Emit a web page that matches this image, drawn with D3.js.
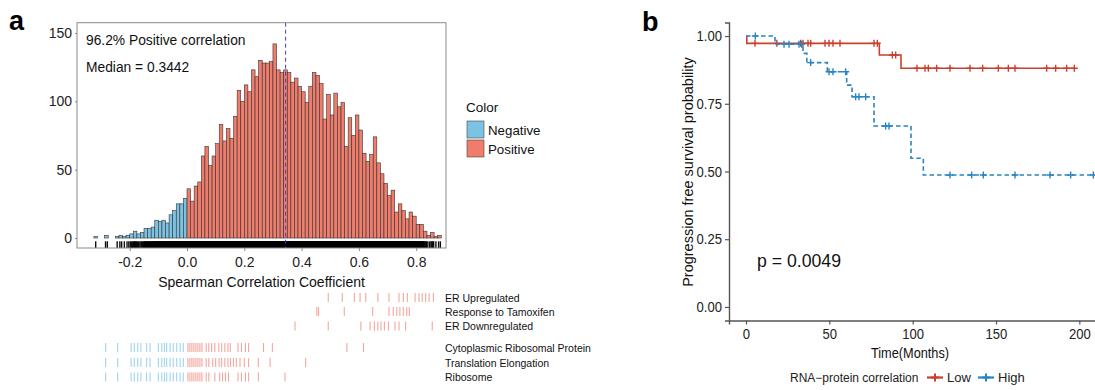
<!DOCTYPE html>
<html>
<head>
<meta charset="utf-8">
<script src="https://cdn.jsdelivr.net/npm/d3@7"></script>
<style>
  body { margin: 0; background: #fff; }
  svg { display: block; font-family: "Liberation Sans", Arial, sans-serif; }
</style>
</head>
<body>
<svg id="fig" width="1095" height="390"></svg>
<script>
// ---- panel a : histogram of spearman correlations (binwidth 0.0125) ----
const binStart = -0.3375, binWidth = 0.0125;
const negCounts = [0, 1, 0, 0, 2, 0, 0, 1, 2, 1, 2, 3, 5, 3, 4, 7, 7, 8, 13, 12, 13, 11, 17, 20, 25, 25, 29];
const posCounts = [36, 27, 38, 41, 60, 67, 53, 60, 69, 83, 71, 80, 73, 89, 108, 100, 112, 107, 123, 118,
  130, 128, 128, 129, 142, 123, 121, 123, 121, 114, 117, 111, 107, 99, 111, 121, 119,
  113, 87, 105, 90, 106, 96, 99, 67, 88, 75, 90, 79, 62, 56, 61, 74, 55, 47, 40, 31,
  35, 19, 25, 20, 14, 19, 16, 10, 10, 5, 2, 4, 1, 2, 0];
const medianCor = 0.3442;
const xTicksA = [-0.2, 0, 0.2, 0.4, 0.6, 0.8];
const yTicksA = [0, 50, 100, 150];
const fillLabels = ["Negative", "Positive"];
const fillColors = ["#7cc3e3", "#f07c6c"];

// gene set members (correlation values)
const geneSets = ["ER Upregulated", "Response to Tamoxifen", "ER Downregulated",
  "Cytoplasmic Ribosomal Protein", "Translation Elongation", "Ribosome"];
const erUp = [0.493, 0.542, 0.584, 0.604, 0.624, 0.666, 0.705, 0.740, 0.755, 0.769, 0.796, 0.810, 0.821, 0.833, 0.845, 0.860];
const tamoxifen = [0.453, 0.459, 0.549, 0.648, 0.705, 0.720, 0.732, 0.743, 0.755, 0.767, 0.776];
const erDown = [0.377, 0.493, 0.607, 0.639, 0.654, 0.666, 0.677, 0.689, 0.703, 0.726, 0.740, 0.763, 0.856];
const riboNeg = [-0.284, -0.242, -0.195, -0.184, -0.172, -0.161, -0.141, -0.129, -0.100, -0.088, -0.079, -0.071, -0.059, -0.048, -0.036, -0.024, -0.013];
const cytoRibo = riboNeg.concat([0.003, 0.010, 0.017, 0.024, 0.031, 0.038, 0.045, 0.052, 0.067, 0.076, 0.086, 0.097, 0.111, 0.121, 0.132, 0.143, 0.151, 0.178, 0.190, 0.204, 0.215, 0.267, 0.298, 0.558, 0.616]);
const translation = riboNeg.concat([0.003, 0.010, 0.017, 0.024, 0.031, 0.038, 0.045, 0.052, 0.067, 0.076, 0.090, 0.100, 0.112, 0.121, 0.132, 0.143, 0.152, 0.162, 0.172, 0.185, 0.200, 0.215, 0.249, 0.290, 0.414]);
const ribosome = riboNeg.concat([0.003, 0.010, 0.017, 0.024, 0.031, 0.038, 0.045, 0.052, 0.067, 0.076, 0.097, 0.114, 0.124, 0.134, 0.145, 0.178, 0.190, 0.204, 0.215, 0.249, 0.342]);
const geneValues = [erUp, tamoxifen, erDown, cytoRibo, translation, ribosome];

// ---- panel b : Kaplan-Meier ----
const lowTimes = [0, 0.5, 80, 93];
const lowSurv = [1, 0.973, 0.930, 0.881];
const lowEnd = 197;
const lowCensor = [5.4, 18.5, 32.8, 34.2, 37.2, 38.8, 47.4, 49.8, 52.2, 56.4, 76.8, 78.8, 87.8, 89.8,
  102.6, 107.4, 109.4, 114.4, 122.4, 134.4, 142, 151.4, 157.4, 161.4, 180.4, 185.8, 192.4, 197];
const highTimes = [0, 17.4, 34.2, 36.5, 48.8, 60.4, 63.6, 76.8, 99, 106.4];
const highSurv = [1, 0.970, 0.936, 0.902, 0.868, 0.819, 0.776, 0.668, 0.549, 0.487];
const highEnd = 216;
const highCensor = [5.6, 22.8, 25.8, 31.8, 33.4, 38.8, 49.8, 52.2, 59.8, 65.8, 67.8, 71.8, 83.8, 85.8,
  122.4, 135.4, 142.4, 161.4, 182.4, 194.8, 208.4];
const xTicksB = [0, 50, 100, 150, 200];
const yTicksB = [0, 0.25, 0.5, 0.75, 1];
const groupNames = ["Low", "High"];
const groupColors = ["#c9402f", "#2a84c4"];

const svg = d3.select("#fig");
svg.append("rect").attr("width", 1095).attr("height", 390).attr("fill", "#fff");

// panel letters
svg.append("text").attr("x", 9).attr("y", 30).attr("font-size", 27).attr("font-weight", "bold").text("a");
svg.append("text").attr("x", 642).attr("y", 31).attr("font-size", 27).attr("font-weight", "bold").text("b");

// plus-shaped censor mark
const plus = s => "M" + (-s) + ",0H" + s + "M0," + (-s) + "V" + s;
// squeeze text horizontally (panel b type is narrower in the figure)
function squeeze(sel, k) {
  sel.each(function () {
    const w = this.getComputedTextLength();
    d3.select(this).attr("textLength", w * k).attr("lengthAdjust", "spacingAndGlyphs");
  });
}

// ===== panel a =====
const xA = d3.scaleLinear().domain([-0.384, 0.904]).range([77, 446]);
const yA = d3.scaleLinear().domain([-7.3, 157.5]).range([248, 22.7]);

const bins = negCounts.map((n, i) => ({ x0: binStart + i * binWidth, n: n, g: 0 }))
  .concat(posCounts.map((n, i) => ({ x0: i * binWidth, n: n, g: 1 })));

const ga = svg.append("g");
ga.selectAll("rect.bar").data(bins).enter().append("rect")
  .attr("class", "bar")
  .attr("x", d => xA(d.x0))
  .attr("width", d => xA(d.x0 + binWidth) - xA(d.x0))
  .attr("y", d => yA(d.n))
  .attr("height", d => yA(0) - yA(d.n))
  .attr("fill", d => fillColors[d.g])
  .attr("stroke", "#333")
  .attr("stroke-width", 0.6);

// rug: one tick per observation spread inside its bin
const rugVals = [];
bins.forEach(b => { for (let k = 0; k < b.n; k++) rugVals.push(b.x0 + binWidth * (k + 0.5) / b.n); });
ga.selectAll("line.rug").data(rugVals).enter().append("line")
  .attr("class", "rug")
  .attr("x1", d => xA(d)).attr("x2", d => xA(d))
  .attr("y1", 241.3).attr("y2", 248)
  .attr("stroke", "#000").attr("stroke-opacity", 0.95).attr("stroke-width", 1.4);

// median line
ga.append("line")
  .attr("x1", xA(medianCor)).attr("x2", xA(medianCor))
  .attr("y1", yA.range()[1]).attr("y2", yA.range()[0])
  .attr("stroke", "#3d3dd0").attr("stroke-width", 1).attr("stroke-dasharray", "4,3");

// panel border
ga.append("rect").attr("x", 77).attr("y", 22.7).attr("width", 369).attr("height", 225.3)
  .attr("fill", "none").attr("stroke", "#8a8a8a").attr("stroke-width", 1);

// axes
const axA = ga.append("g").attr("transform", "translate(0,248)")
  .call(d3.axisBottom(xA).tickValues(xTicksA).tickSize(3).tickFormat(d3.format(".1f")));
const ayA = ga.append("g").attr("transform", "translate(77,0)")
  .call(d3.axisLeft(yA).tickValues(yTicksA).tickSize(2));
[axA, ayA].forEach(a => {
  a.select(".domain").remove();
  a.selectAll("line").attr("stroke", "#8a8a8a");
  a.selectAll("text").attr("font-size", 14).attr("fill", "#222").attr("font-family", "Liberation Sans, Arial");
});
axA.selectAll("text").attr("dy", "0.95em").text(d => d < 0 ? "-" + Math.abs(d).toFixed(1) : d.toFixed(1));

ga.append("text").attr("x", 261.5).attr("y", 287).attr("text-anchor", "middle")
  .attr("font-size", 14).attr("fill", "#111").text("Spearman Correlation Coefficient");
ga.append("text").attr("x", 86).attr("y", 45).attr("font-size", 13.8).attr("fill", "#111").text("96.2% Positive correlation");
ga.append("text").attr("x", 86).attr("y", 72).attr("font-size", 13.8).attr("fill", "#111").text("Median = 0.3442");

// legend
const legA = ga.append("g");
legA.append("text").attr("x", 466).attr("y", 112).attr("font-size", 13.5).attr("fill", "#111").text("Color");
fillLabels.forEach((lab, i) => {
  legA.append("rect").attr("x", 467).attr("y", 121 + i * 19).attr("width", 17).attr("height", 17)
    .attr("fill", fillColors[i]).attr("stroke", "#444").attr("stroke-width", 0.6);
  legA.append("text").attr("x", 488).attr("y", 135 + i * 19).attr("font-size", 13.3).attr("fill", "#111").text(lab);
});

// gene set strips
const rowY = [297.5, 311.5, 326, 347.5, 362.5, 377];
geneSets.forEach((name, r) => {
  const row = ga.append("g");
  row.selectAll("line").data(geneValues[r]).enter().append("line")
    .attr("x1", d => xA(d)).attr("x2", d => xA(d))
    .attr("y1", rowY[r] - 4.5).attr("y2", rowY[r] + 4.5)
    .attr("stroke", d => d < 0 ? "#5fb8de" : "#ec6b5b")
    .attr("stroke-opacity", 0.6).attr("stroke-width", 1.1);
  row.append("text").attr("x", 445).attr("y", rowY[r] + 4).attr("font-size", 10.5).attr("fill", "#111").text(name);
});

// ===== panel b =====
const xB = d3.scaleLinear().domain([-10.2, 214.2]).range([729, 1103]);
const yB = d3.scaleLinear().domain([-0.05, 1.05]).range([320.5, 22.5]);
const gb = svg.append("g");

const axB = gb.append("g").attr("transform", "translate(0,320.5)")
  .call(d3.axisBottom(xB).tickValues(xTicksB).tickSize(4).tickPadding(4));
const ayB = gb.append("g").attr("transform", "translate(729,0)")
  .call(d3.axisLeft(yB).tickValues(yTicksB).tickSize(4).tickPadding(3).tickFormat(d3.format(".2f")));
[axB, ayB].forEach(a => {
  a.select(".domain").attr("stroke", "#555").attr("stroke-width", 1.4);
  a.selectAll("line").attr("stroke", "#555").attr("stroke-width", 1.2);
  a.selectAll("text").attr("font-size", 14.5).attr("fill", "#222").attr("font-family", "Liberation Sans, Arial");
  squeeze(a.selectAll("text"), 0.9);
});

const stepLine = d3.line().x(d => xB(d[0])).y(d => yB(d[1])).curve(d3.curveStepAfter);
const groups = [
  { times: lowTimes, surv: lowSurv, end: lowEnd, censor: lowCensor, dash: null },
  { times: highTimes, surv: highSurv, end: highEnd, censor: highCensor, dash: "4.5,3" }
];
groups.forEach((g, gi) => {
  const pts = g.times.map((t, i) => [t, g.surv[i]]);
  pts.push([g.end, g.surv[g.surv.length - 1]]);
  gb.append("path").attr("d", stepLine(pts)).attr("fill", "none")
    .attr("stroke", groupColors[gi]).attr("stroke-width", 1.6)
    .attr("stroke-dasharray", g.dash);
  const survAt = t => g.surv[d3.bisectRight(g.times, t) - 1];
  gb.selectAll("path.cens" + gi).data(g.censor).enter().append("path")
    .attr("class", "cens" + gi)
    .attr("d", plus(3.5))
    .attr("transform", d => "translate(" + xB(d) + "," + yB(survAt(d)) + ")")
    .attr("fill", "none").attr("stroke", groupColors[gi]).attr("stroke-width", 1.4);
});

const pText = gb.append("text").attr("x", 757).attr("y", 267).attr("font-size", 19).attr("fill", "#111").text("p = 0.0049");
squeeze(pText, 0.93);
gb.append("text").attr("transform", "translate(693,172) rotate(-90)").attr("text-anchor", "middle")
  .attr("font-size", 14.5).attr("fill", "#111").text("Progression free survival probability");
const tText = gb.append("text").attr("x", 910).attr("y", 358).attr("text-anchor", "middle")
  .attr("font-size", 15).attr("fill", "#111").text("Time(Months)");
squeeze(tText, 0.85);

// legend b
const legB = gb.append("g");
legB.append("text").attr("x", 790).attr("y", 382).attr("font-size", 12).attr("fill", "#222").text("RNA\u2212protein correlation");
const legX = [927, 978];
groupNames.forEach((name, i) => {
  legB.append("line").attr("x1", legX[i]).attr("x2", legX[i] + 16).attr("y1", 377.5).attr("y2", 377.5)
    .attr("stroke", groupColors[i]).attr("stroke-width", 2.2);
  legB.append("path").attr("d", plus(4))
    .attr("transform", "translate(" + (legX[i] + 8) + ",377.5)")
    .attr("fill", "none").attr("stroke", groupColors[i]).attr("stroke-width", 2);
  legB.append("text").attr("x", legX[i] + 20).attr("y", 382).attr("font-size", 13).attr("fill", "#222").text(name);
});
</script>
</body>
</html>
